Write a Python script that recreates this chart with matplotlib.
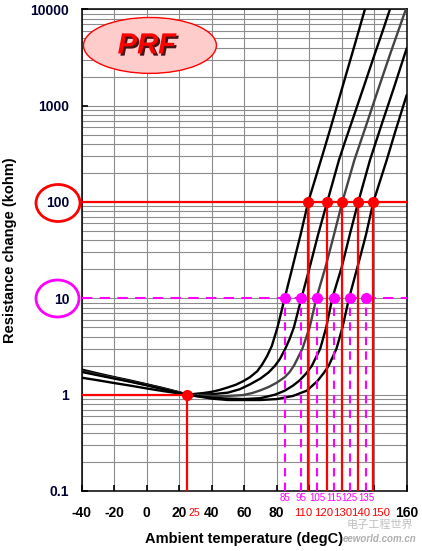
import numpy as np
import matplotlib
matplotlib.use("Agg")
import matplotlib.pyplot as plt
from matplotlib.patches import Ellipse
from matplotlib.ticker import LogLocator, NullFormatter
import matplotlib.patheffects as pe

plt.rcParams['font.family'] = ['Liberation Sans', 'DejaVu Sans']

# resistance curves (temperature degC, resistance kohm)
temp_1 = [-40, -30, -20, -10, 0, 10, 20, 25, 30, 35, 40, 45, 50, 55, 59.4, 63.6, 68, 71, 74, 77, 80.5, 84.9, 90, 95, 99.4, 104, 108, 113, 118, 123, 128, 134.3]
res_1 = [1.82, 1.66, 1.52, 1.40, 1.28, 1.17, 1.06, 1.00, 1.02, 1.04, 1.07, 1.12, 1.19, 1.27, 1.38, 1.52, 1.75, 2.05, 2.5, 3.2, 5.0, 10, 22, 48, 100, 180, 300, 575, 1120, 2190, 4270, 10000]

temp_2 = [-40, -30, -20, -10, 0, 10, 20, 25, 30, 40, 50, 57.4, 63.6, 70, 75, 79, 82, 85.3, 88, 90.6, 95.2, 100, 105.5, 111.1, 118.3, 122, 128, 134, 140, 145, 149.7]
res_2 = [1.78, 1.63, 1.50, 1.38, 1.27, 1.16, 1.05, 1.00, 1.00, 1.01, 1.05, 1.14, 1.28, 1.47, 1.70, 2.0, 2.35, 3.0, 3.8, 5.0, 10, 20, 46, 100, 272, 420, 830, 1650, 3300, 5800, 10000]

temp_3 = [-40, -30, -20, -10, 0, 10, 20, 25, 30, 40, 50, 59.4, 65, 70, 75, 80, 85, 88, 90.6, 93, 95.8, 100.3, 104.4, 110, 115, 120.4, 127.8, 135, 142, 150, 159.5]
res_3 = [1.75, 1.61, 1.49, 1.37, 1.26, 1.15, 1.05, 1.00, 0.99, 0.97, 0.97, 0.99, 1.04, 1.11, 1.20, 1.33, 1.52, 1.72, 2.0, 2.4, 3.0, 5.0, 10, 21, 44, 100, 272, 620, 1400, 3500, 10000]

temp_4 = [-40, -30, -20, -10, 0, 10, 20, 25, 30, 40, 50, 60, 70, 79, 85, 90, 94, 98, 101.7, 104.5, 106.8, 110.5, 114.2, 120, 125, 130.2, 137.4, 145, 152, 160]
res_4 = [1.72, 1.59, 1.47, 1.36, 1.25, 1.14, 1.04, 1.00, 0.97, 0.93, 0.91, 0.90, 0.92, 1.00, 1.10, 1.24, 1.40, 1.65, 2.0, 2.5, 3.0, 5.0, 10, 21, 46, 100, 272, 670, 1510, 3940]

temp_5 = [-40, -30, -20, -10, 0, 10, 20, 25, 30, 40, 50, 60, 70, 80, 90, 98.5, 105, 109, 112, 116.8, 120.5, 124.5, 130, 135, 139.5, 147.7, 153, 160]
res_5 = [1.50, 1.41, 1.32, 1.24, 1.16, 1.09, 1.03, 1.00, 0.97, 0.91, 0.88, 0.88, 0.88, 0.90, 0.97, 1.10, 1.38, 1.68, 2.0, 3.0, 5.0, 10, 22, 46, 100, 272, 540, 1290]

curve_colors = ['black', 'black', '#444444', 'black', 'black']

# 100 kohm switching points
t_100 = [99.4, 111.1, 120.4, 130.2, 139.5]
t_100_labels = ['110', '120', '130', '140', '150']
t_100_label_x = [96.4, 109.0, 120.5, 131.9, 144.0]
# 10 kohm points
t_10 = [85, 95, 105, 115, 125, 135]
t_10_labels = ['85', '95', '105', '115', '125', '135']
# reference point
t_ref, r_ref = 25, 1.0

x_ticks = [-40, -20, 0, 20, 40, 60, 80, 100, 120, 140, 160]
x_ticklabels = ['-40', '-20', '0', '20', '40', '60', '80', '', '', '', '160']
y_ticks = [0.1, 1, 10, 100, 1000, 10000]
y_ticklabels = ['0.1', '1', '10', '100', '1000', '10000']

RED = '#ff0000'
MAG = '#ff00ff'

fig = plt.figure(figsize=(4.22, 5.51), dpi=100)
ax = fig.add_axes([0.1936, 0.1089, 0.7701, 0.8742])

ax.set_yscale('log')
ax.set_xlim(-40, 160)
ax.set_ylim(0.1, 10000)

ax.set_xticks(x_ticks)
ax.set_xticklabels(x_ticklabels, fontsize=10, fontweight='bold')
ax.set_yticks(y_ticks)
ax.set_yticklabels(y_ticklabels, fontsize=10, fontweight='bold', color='#000033')
ax.yaxis.set_minor_locator(LogLocator(base=10, subs=range(2, 10)))
ax.yaxis.set_minor_formatter(NullFormatter())
ax.tick_params(axis='both', which='major', direction='in', length=4, width=1.2)
ax.tick_params(axis='x', pad=11)
ax.tick_params(axis='y', pad=9)
ax.tick_params(axis='y', which='minor', length=0)
ax.grid(True, which='both', color='#8c8c8c', linewidth=0.8)
ax.set_axisbelow(True)
for s in ax.spines.values():
    s.set_linewidth(1.1)
    s.set_color('black')

# curves
curves = [(temp_1, res_1), (temp_2, res_2), (temp_3, res_3), (temp_4, res_4), (temp_5, res_5)]
for (t, r), c in zip(curves, curve_colors):
    ax.plot(t, r, color=c, linewidth=1.7, zorder=3, solid_capstyle='round', solid_joinstyle='round')

# 10 kohm guide lines
ax.axhline(10, color=MAG, linewidth=1.5, dashes=(5, 3.5), zorder=4)
for t in t_10:
    ax.plot([t, t], [0.1, 10], color=MAG, linewidth=1.5, dashes=(4, 3), zorder=4)
ax.plot(t_10, [10] * len(t_10), 'o', color=MAG, markersize=7, zorder=6)

# 100 kohm guide lines
ax.axhline(100, color=RED, linewidth=1.6, zorder=5)
for t in t_100:
    ax.plot([t, t], [0.1, 100], color=RED, linewidth=1.6, zorder=5)
ax.plot(t_100, [100] * len(t_100), 'o', color=RED, markersize=7, zorder=6)

# reference point at 25 degC
ax.plot([-40, t_ref], [r_ref, r_ref], color=RED, linewidth=1.6, zorder=5)
ax.plot([t_ref, t_ref], [0.1, r_ref], color=RED, linewidth=1.6, zorder=5)
ax.plot([t_ref], [r_ref], 'o', color=RED, markersize=7, zorder=6)

# small labels under the axis
tr = ax.get_xaxis_transform()
for t, lab in zip(t_10, t_10_labels):
    ax.text(t, -0.0145, lab, transform=tr, ha='center', va='center', fontsize=7, color=MAG)
for t, lab in zip(t_100_label_x, t_100_labels):
    ax.text(t, -0.0457, lab, transform=tr, ha='center', va='center', fontsize=8.2, color=RED)
ax.text(t_ref + 0.6, -0.0457, '25', transform=tr, ha='left', va='center', fontsize=7.5, color=RED)

ax.set_xlabel('Ambient temperature (degC)', fontsize=10.5, fontweight='bold')
ax.xaxis.set_label_coords(0.5, -0.085)
ax.set_ylabel('Resistance change (kohm)', fontsize=10.5, fontweight='bold')
ax.yaxis.set_label_coords(-0.2, 0.5)

# PRF badge
badge = Ellipse((0.210, 0.925), 0.409, 0.116, transform=ax.transAxes,
                facecolor='#ffcccc', edgecolor=RED, linewidth=1.0, zorder=7)
ax.add_patch(badge)
ax.text(0.200, 0.925, 'PRF', transform=ax.transAxes, ha='center', va='center',
        fontsize=21, fontweight='bold', fontstyle='italic', color=RED, zorder=8,
        path_effects=[pe.SimplePatchShadow(offset=(1.6, -1.6), shadow_rgbFace='#300000', alpha=0.9),
                      pe.Normal()])

# circles around 100 and 10 labels
fig.patches.append(Ellipse((58 / 422, 1 - 203 / 551), 44 / 422, 37 / 551, transform=fig.transFigure,
                           facecolor='none', edgecolor=RED, linewidth=2.0))
fig.patches.append(Ellipse((57.5 / 422, 1 - 298.5 / 551), 43 / 422, 37 / 551, transform=fig.transFigure,
                           facecolor='none', edgecolor=MAG, linewidth=2.0))

# site watermark
fig.text(380 / 422, 1 - 525 / 551, '电子工程世界', ha='center', va='center', fontsize=8,
         color='#b0b0b0', family=['Noto Sans CJK SC', 'DejaVu Sans'], alpha=0.8)
fig.text(380 / 422, 1 - 539 / 551, 'eeworld.com.cn', ha='center', va='center', fontsize=7,
         color='#999999', fontstyle='italic', fontweight='bold', alpha=0.8)

fig.savefig('out.png', dpi=100)
